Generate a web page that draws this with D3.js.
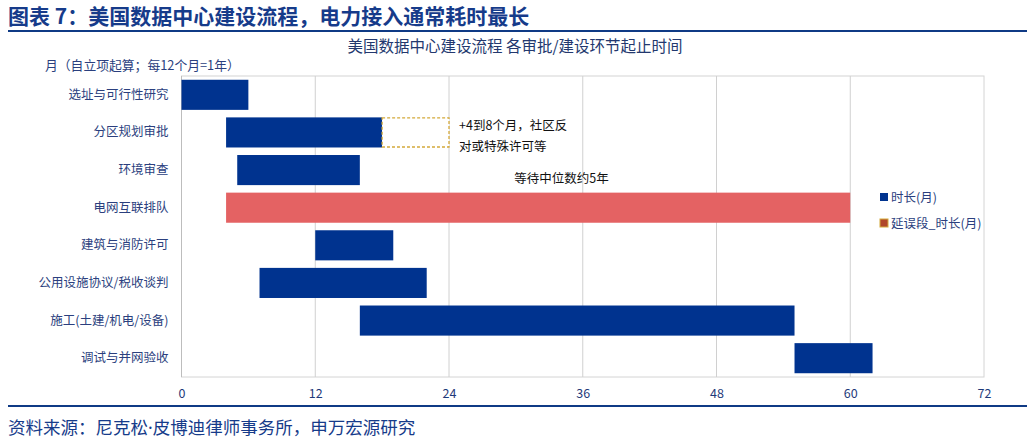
<!DOCTYPE html>
<html>
<head>
<meta charset="utf-8">
<script src="https://cdn.jsdelivr.net/npm/d3@7/dist/d3.min.js"></script>
<style>
  body { margin: 0; background: #fff; }
  svg { font-family: "Noto Sans CJK SC", "Noto Sans", sans-serif; }
</style>
</head>
<body>
<svg id="chart" width="1035" height="444"></svg>
<script>
// data: months from project start
var stages = ["选址与可行性研究", "分区规划审批", "环境审查", "电网互联排队",
  "建筑与消防许可", "公用设施协议/税收谈判", "施工(土建/机电/设备)", "调试与并网验收"];
var startMonth = [0, 4, 5, 4, 12, 7, 16, 55];
var endMonth = [6, 18, 16, 60, 19, 22, 55, 62];
var delayStage = ["分区规划审批"];
var delayStart = [18];
var delayEnd = [24];
var highlightStage = "电网互联排队";
var xTicks = [0, 12, 24, 36, 48, 60, 72];

var svg = d3.select("#chart");
var W = 1035, H = 444;
var margin = { left: 181.5, right: 51, top: 76, bottom: 67 };

var x = d3.scaleLinear().domain([0, 72]).range([margin.left, W - margin.right]);
var y = d3.scaleBand().domain(stages).range([margin.top, H - margin.bottom]).paddingInner(0.2).paddingOuter(0.1);

// header
svg.append("text").attr("x", 8).attr("y", 24)
  .attr("font-size", 21).attr("font-weight", "bold").attr("fill", "#163B8A")
  .text("图表 7：美国数据中心建设流程，电力接入通常耗时最长");
svg.append("line").attr("x1", 8).attr("x2", 1027).attr("y1", 31).attr("y2", 31)
  .attr("stroke", "#0F3A85").attr("stroke-width", 2);

svg.append("text").attr("x", 515).attr("y", 52).attr("text-anchor", "middle")
  .attr("font-size", 15.5).attr("fill", "#23386E")
  .text("美国数据中心建设流程 各审批/建设环节起止时间");

svg.append("text").attr("x", 45).attr("y", 70)
  .attr("font-size", 12.8).attr("fill", "#2B3F7E")
  .text("月（自立项起算；每12个月=1年）");

// plot frame + grid
svg.append("rect").attr("x", x(0)).attr("y", margin.top)
  .attr("width", x(72) - x(0)).attr("height", H - margin.bottom - margin.top)
  .attr("fill", "none").attr("stroke", "#D4D4D4");

svg.append("g").selectAll("line").data(xTicks.slice(1, -1)).join("line")
  .attr("x1", d => x(d)).attr("x2", d => x(d))
  .attr("y1", margin.top).attr("y2", H - margin.bottom)
  .attr("stroke", "#D0D0D0");

svg.append("line").attr("x1", x(0)).attr("x2", x(0))
  .attr("y1", margin.top).attr("y2", H - margin.bottom)
  .attr("stroke", "#BDBDBD");

// x axis
var xAxis = svg.append("g").attr("transform", "translate(0," + (H - margin.bottom) + ")")
  .call(d3.axisBottom(x).tickValues(xTicks).tickSize(0).tickPadding(12));
xAxis.select(".domain").remove();
xAxis.selectAll("text").attr("font-size", 12.5).attr("fill", "#1F3A7A")
  .attr("font-family", "'Noto Sans CJK SC', sans-serif");

// y axis
var yAxis = svg.append("g").attr("transform", "translate(" + (x(0) - 13) + ",0)")
  .call(d3.axisLeft(y).tickSize(0).tickPadding(0));
yAxis.select(".domain").remove();
yAxis.selectAll("text").attr("font-size", 12.5).attr("fill", "#2B3F7E")
  .attr("font-family", "'Noto Sans CJK SC', sans-serif");

// bars
var rows = stages.map(function (s, i) {
  return { stage: s, start: startMonth[i], end: endMonth[i] };
});
svg.append("g").selectAll("rect").data(rows).join("rect")
  .attr("x", d => x(d.start)).attr("y", d => y(d.stage))
  .attr("width", d => x(d.end) - x(d.start)).attr("height", y.bandwidth())
  .attr("fill", d => d.stage === highlightStage ? "#E46263" : "#00338F");

var delays = delayStage.map(function (s, i) {
  return { stage: s, start: delayStart[i], end: delayEnd[i] };
});
svg.append("g").selectAll("rect").data(delays).join("rect")
  .attr("x", d => x(d.start)).attr("y", d => y(d.stage) + 0.5)
  .attr("width", d => x(d.end) - x(d.start)).attr("height", y.bandwidth() - 1)
  .attr("fill", "#fff").attr("stroke", "#D4A93A").attr("stroke-width", 1.3)
  .attr("stroke-dasharray", "3,2");

// annotations
var ann = svg.append("g").attr("font-size", 12.5).attr("fill", "#111");
var dy = y(delayStage[0]);
ann.append("text").attr("x", x(delayEnd[0]) + 10).attr("y", dy + 13).text("+4到8个月，社区反");
ann.append("text").attr("x", x(delayEnd[0]) + 10).attr("y", dy + 34).text("对或特殊许可等");
ann.append("text").attr("x", x(34) + 1).attr("y", y(highlightStage) - 10)
  .attr("text-anchor", "middle").text("等待中位数约5年");

// legend
var legend = [
  { name: "时长(月)", fill: "#00338F", stroke: "none" },
  { name: "延误段_时长(月)", fill: "#B0472A", stroke: "#D4A93A" }
];
var lg = svg.append("g").attr("transform", "translate(880,197)");
lg.selectAll("rect").data(legend).join("rect")
  .attr("x", 0).attr("y", (d, i) => i * 26 - 4)
  .attr("width", 8).attr("height", 8)
  .attr("fill", d => d.fill).attr("stroke", d => d.stroke);
lg.selectAll("text").data(legend).join("text")
  .attr("x", 11).attr("y", (d, i) => i * 26 + 4.5)
  .attr("font-size", 12.5).attr("fill", "#2B3F7E")
  .text(d => d.name);

// footer
svg.append("line").attr("x1", 8).attr("x2", 1027).attr("y1", 406).attr("y2", 406)
  .attr("stroke", "#0F3A85").attr("stroke-width", 2);
var src = svg.append("text").attr("x", 8).attr("y", 434)
  .attr("font-size", 17.5).attr("fill", "#163B8A");
src.append("tspan").text("资料来源：尼克松");
src.append("tspan").attr("font-family", "'Noto Sans', sans-serif").text("·");
src.append("tspan").text("皮博迪律师事务所，申万宏源研究");
</script>
</body>
</html>
